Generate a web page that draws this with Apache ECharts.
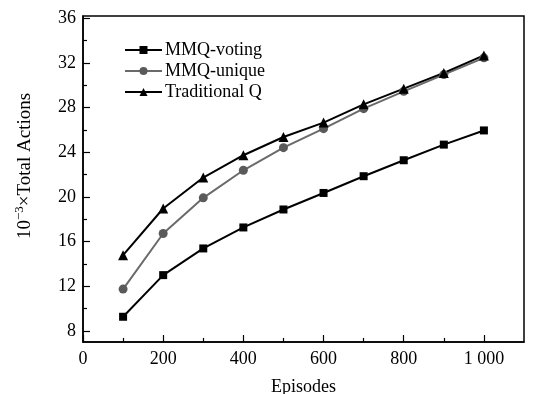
<!DOCTYPE html>
<html><head><meta charset="utf-8">
<script src="https://cdn.jsdelivr.net/npm/echarts@6/dist/echarts.min.js"></script>
<style>html,body{margin:0;padding:0;background:#fff}#c{width:533px;height:394px}</style>
</head><body><div id="c"></div>
<script>
const episodes = [100, 200, 300, 400, 500, 600, 700, 800, 900, 1000];
const mmqVoting = [9.26, 12.99, 15.38, 17.26, 18.87, 20.35, 21.85, 23.28, 24.68, 25.95];
const mmqUnique = [11.74, 16.72, 19.91, 22.38, 24.41, 26.11, 27.9, 29.45, 30.95, 32.45];
const traditionalQ = [14.78, 18.96, 21.73, 23.73, 25.36, 26.65, 28.29, 29.69, 31.1, 32.67];
const xMajor = [0, 200, 400, 600, 800, 1000];
const xMinor = [100, 300, 500, 700, 900];
const yMajor = [8, 12, 16, 20, 24, 28, 32, 36];
const yMinor = [10, 14, 18, 22, 26, 30, 34];

const FONT = 'Liberation Serif';
const FS = 18;
const chart = echarts.init(document.getElementById('c'));
const pair = a => episodes.map((x, i) => [x, a[i]]);
chart.setOption({
  animation: false,
  grid: {left: 83, right: 9, top: 16, bottom: 52, outerBoundsMode: 'none', containLabel: false,
    show: true, borderColor: '#000', borderWidth: 1.5, backgroundColor: 'transparent'},
  legend: {
    orient: 'vertical', left: 119, top: 36, itemWidth: 37, itemHeight: 10, itemGap: 3,
    textStyle: {fontFamily: FONT, fontSize: FS, color: '#000', padding: [0,0,0,-2]},
    data: ['MMQ-voting', 'MMQ-unique', 'Traditional Q']
  },
  xAxis: [{
    type: 'value', min: 0, max: 1100,
    axisLine: {lineStyle: {color: '#000', width: 1.5}},
    axisTick: {inside: true, length: 7, customValues: xMajor, lineStyle: {color: '#000', width: 1.2}},
    axisLabel: {customValues: xMajor, margin: 8, fontFamily: FONT, fontSize: FS, color: '#000',
      formatter: v => v >= 1000 ? String(v).replace(/(\d)(\d{3})$/, '$1 $2') : String(v)},
    splitLine: {show: false},
    name: 'Episodes', nameLocation: 'middle', nameGap: 36,
    nameTextStyle: {fontFamily: FONT, fontSize: FS, color: '#000'}
  }, {
    type: 'value', min: 0, max: 1100, position: 'bottom',
    axisLine: {show: false},
    axisTick: {inside: true, length: 4, customValues: xMinor, lineStyle: {color: '#000', width: 1.2}},
    axisLabel: {show: false}, splitLine: {show: false}
  }],
  yAxis: [{
    type: 'value', min: 7, max: 36.2,
    axisLine: {lineStyle: {color: '#000', width: 1.5}},
    axisTick: {inside: true, length: 7, customValues: yMajor, lineStyle: {color: '#000', width: 1.2}},
    axisLabel: {customValues: yMajor, margin: 7, fontFamily: FONT, fontSize: FS, color: '#000'},
    splitLine: {show: false}
  }, {
    type: 'value', min: 7, max: 36.2, position: 'left',
    axisLine: {show: false},
    axisTick: {inside: true, length: 4, customValues: yMinor, lineStyle: {color: '#000', width: 1.2}},
    axisLabel: {show: false}, splitLine: {show: false}
  }],
  graphic: [{
    type: 'text', x: 25, y: 166, rotation: Math.PI / 2, origin: [0, 0],
    style: {
      text: '10{sup|−3}×Total Actions', fill: '#000',
      font: '19px "' + FONT + '"', align: 'center', verticalAlign: 'middle',
      rich: {sup: {fontSize: 13, fontFamily: FONT, fill: '#000', padding: [0, 0, 10, 0]}}
    }
  }],
  series: [{
    name: 'MMQ-voting', type: 'line', data: pair(mmqVoting),
    symbol: 'rect', symbolSize: 8,
    lineStyle: {color: '#000', width: 2}, itemStyle: {color: '#000'}
  }, {
    name: 'MMQ-unique', type: 'line', data: pair(mmqUnique),
    symbol: 'circle', symbolSize: 9,
    lineStyle: {color: '#6a6a6a', width: 2}, itemStyle: {color: '#5a5a5a'}
  }, {
    name: 'Traditional Q', type: 'line', data: pair(traditionalQ),
    symbol: 'triangle', symbolSize: 10,
    lineStyle: {color: '#000', width: 2}, itemStyle: {color: '#000'}
  }]
});
</script></body></html>
